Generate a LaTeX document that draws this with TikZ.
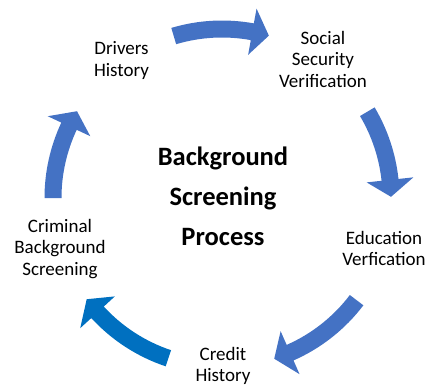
\documentclass[tikz,border=0pt]{standalone}
\usepackage{fontspec}
\setmainfont{Carlito}
\definecolor{arrowblue}{HTML}{4472C4}
\definecolor{arrowdark}{HTML}{0070C0}
\newcommand{\cycarrow}[3]{%
  \pgfmathsetmacro{\hb}{#3+5.76}%
  \fill[#1] (#2:177.5) arc[start angle=#2, end angle=\hb, radius=177.5]
    -- (\hb:192.5) -- (#3:169) -- (\hb:145.5) -- (\hb:160.5)
    arc[start angle=\hb, end angle=#2, radius=160.5] -- cycle;
}
\tikzset{
  lbl/.style={font=\fontsize{19}{21.5}\selectfont, align=center, inner sep=0pt, text=black},
  ttl/.style={font=\fontsize{26.5}{40}\selectfont\bfseries, align=center, inner sep=0pt, text=black}
}
\begin{document}
\begin{tikzpicture}[x=1pt,y=1pt]
\useasboundingbox (0,0) rectangle (428,386);
\begin{scope}[shift={(222,188)}]
  \cycarrow{arrowblue}{106.6}{73.9}
  \cycarrow{arrowblue}{30.7}{0.4}
  \cycarrow{arrowblue}{-37.2}{-72}
  \cycarrow{arrowdark}{-108.5}{-143.2}
  \cycarrow{arrowblue}{180}{149.1}
\end{scope}
\node[lbl] (drv) at (121.5,324.8) {\strut Drivers\\History\strut};
\node[lbl] (ssv) at (323,324.4) {\strut Social\\Security\\Verification\strut};
\node[lbl] (edu) at (384,135.3) {\strut Education\\Verfication\strut};
\node[lbl] (cred) at (223,19.3) {\strut Credit\\History\strut};
\node[lbl] (crim) at (60,136.8) {\strut Criminal\\Background\\Screening\strut};
\node[ttl] (title) at (223,189) {\strut Background\\Screening\\Process\strut};
\end{tikzpicture}
\end{document}
